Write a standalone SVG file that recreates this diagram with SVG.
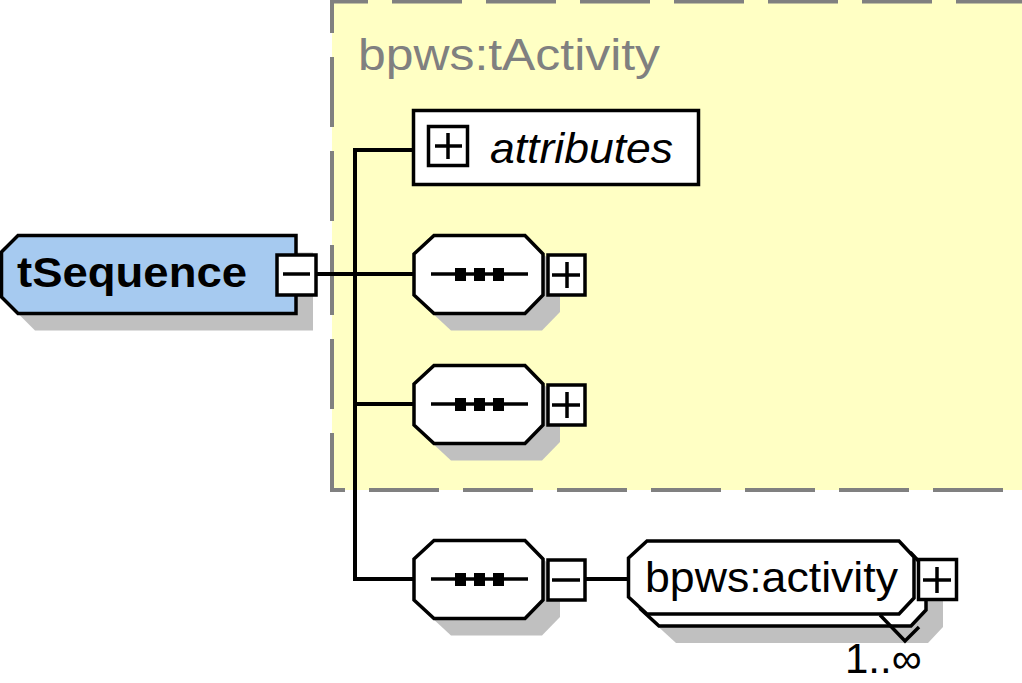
<svg xmlns="http://www.w3.org/2000/svg" xmlns:xlink="http://www.w3.org/1999/xlink" width="1022" height="683" viewBox="0 0 1022 683">
  <style>
    .outline { stroke: #000; stroke-width: 3.5; stroke-linejoin: miter; }
    .shadow { fill: #c0c0c0; stroke: none; }
    .box { fill: #fff; stroke: #000; stroke-width: 3.5; }
    .sign { stroke: #000; stroke-width: 3.5; fill: none; }
    .wire { stroke: #000; stroke-width: 4; fill: none; }
    .dash { stroke: #808080; stroke-width: 4; fill: none; stroke-dasharray: 70 24; }
    .label { font-family: "Liberation Sans", Arial, sans-serif; font-size: 42px; fill: #000; }
  </style>
  <defs>
    <!-- sequence compositor: octagon with dotted bar and a toggle box -->
    <g id="compositor">
      <polygon class="shadow" transform="translate(17,17)" points="22,1.5 113,1.5 131,20 131,61 113,79.5 22,79.5 2,61 2,20"/>
      <polygon class="outline" fill="#fff" points="22,1.5 113,1.5 131,20 131,61 113,79.5 22,79.5 2,61 2,20"/>
      <line x1="19" y1="40" x2="116" y2="40" stroke="#000" stroke-width="3.5"/>
      <rect x="43" y="34" width="11" height="13" fill="#000"/>
      <rect x="62" y="34" width="11" height="13" fill="#000"/>
      <rect x="81" y="34" width="11" height="13" fill="#000"/>
      <rect class="box" x="136" y="21" width="37" height="40"/>
      <line class="sign" x1="140" y1="41" x2="168" y2="41"/>
    </g>
    <line id="plus-bar" class="sign" x1="155" y1="28" x2="155" y2="54"/>
  </defs>

  <!-- base type region -->
  <g id="base-type">
    <rect x="332" y="0" width="700" height="490" fill="#ffffc4"/>
    <path class="dash" d="M330,1.5 H1022" stroke-dashoffset="32"/>
    <path class="dash" d="M332,0 V490" stroke-dashoffset="37"/>
    <path class="dash" d="M330,490 H1022" stroke-dashoffset="55"/>
    <text x="358" y="70" font-family="'Liberation Sans', Arial, sans-serif" font-size="44" fill="#808080" textLength="302" lengthAdjust="spacingAndGlyphs">bpws:tActivity</text>
  </g>

  <!-- connectors -->
  <g id="connectors">
    <line class="wire" x1="316" y1="274" x2="414" y2="274"/>
    <line class="wire" x1="355" y1="150" x2="355" y2="580"/>
    <line class="wire" x1="353" y1="150" x2="414" y2="150"/>
    <line class="wire" x1="355" y1="404" x2="414" y2="404"/>
    <line class="wire" x1="353" y1="579" x2="414" y2="579"/>
    <line class="wire" x1="586" y1="579" x2="629" y2="579"/>
  </g>

  <!-- root complex type -->
  <g id="tSequence">
    <polygon class="shadow" transform="translate(17,17)" points="18,235.5 296,235.5 296,313.5 18,313.5 1.5,297 1.5,252"/>
    <polygon class="outline" fill="#a6caf0" points="18,235.5 296,235.5 296,313.5 18,313.5 1.5,297 1.5,252"/>
    <text class="label" x="17" y="287" font-weight="bold" textLength="230" lengthAdjust="spacingAndGlyphs">tSequence</text>
    <rect class="box" x="277" y="255" width="39" height="40"/>
    <line class="sign" x1="283" y1="274" x2="310" y2="274"/>
  </g>

  <!-- attribute group -->
  <g id="attributes">
    <rect class="box" x="413.5" y="110.5" width="285" height="74"/>
    <rect class="box" x="428.5" y="126.5" width="39" height="39"/>
    <line class="sign" x1="435" y1="146" x2="462" y2="146"/>
    <line class="sign" x1="448" y1="133" x2="448" y2="159"/>
    <text class="label" x="490" y="163" font-style="italic" textLength="183" lengthAdjust="spacingAndGlyphs">attributes</text>
  </g>

  <!-- compositors -->
  <g id="sequence-1" transform="translate(412,234)">
    <use xlink:href="#compositor"/>
    <use xlink:href="#plus-bar"/>
  </g>
  <g id="sequence-2" transform="translate(412,364)">
    <use xlink:href="#compositor"/>
    <use xlink:href="#plus-bar"/>
  </g>
  <g id="sequence-3" transform="translate(412,539)">
    <use xlink:href="#compositor"/>
  </g>

  <!-- repeated element -->
  <g id="bpws-activity">
    <polygon class="shadow" transform="translate(29,29)" points="647,541 899,541 914,557 914,598 899,614 647,614 628.5,597 628.5,558"/>
    <polygon class="outline" fill="#fff" transform="translate(12,12)" points="647,541 899,541 914,557 914,598 899,614 647,614 628.5,597 628.5,558"/>
    <polyline class="outline" fill="none" points="880,615 905,641 919,627"/>
    <polygon class="outline" fill="#fff" points="647,541 899,541 914,557 914,598 899,614 647,614 628.5,597 628.5,558"/>
    <text class="label" x="645" y="592" textLength="253" lengthAdjust="spacingAndGlyphs">bpws:activity</text>
    <rect class="box" x="918.5" y="559.5" width="38" height="40"/>
    <line class="sign" x1="923" y1="580" x2="951" y2="580"/>
    <line class="sign" x1="937" y1="567" x2="937" y2="593"/>
    <text class="label" x="845" y="673" font-size="40">1..∞</text>
  </g>
</svg>
